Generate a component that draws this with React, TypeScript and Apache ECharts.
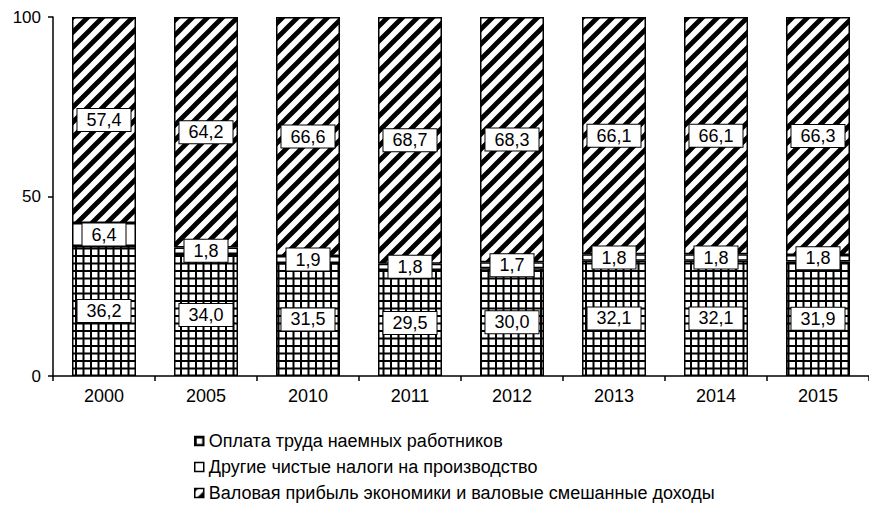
import React, { useEffect, useRef } from "react";
import * as echarts from "echarts";

const years = ["2000", "2005", "2010", "2011", "2012", "2013", "2014", "2015"];
const wages = [36.2, 34.0, 31.5, 29.5, 30.0, 32.1, 32.1, 31.9];
const taxes = [6.4, 1.8, 1.9, 1.8, 1.7, 1.8, 1.8, 1.8];
const profit = [57.4, 64.2, 66.6, 68.7, 68.3, 66.1, 66.1, 66.3];
const seriesNames = [
  "Оплата труда наемных работников",
  "Другие чистые налоги на производство",
  "Валовая прибыль экономики и валовые смешанные доходы",
];

const FONT = "'Liberation Sans', Arial, sans-serif";

function gridPattern(): HTMLCanvasElement {
  const c = document.createElement("canvas");
  c.width = 15;
  c.height = 15;
  const ctx = c.getContext("2d")!;
  ctx.fillStyle = "#fff";
  ctx.fillRect(0, 0, 15, 15);
  ctx.fillStyle = "#000";
  ctx.fillRect(0, 0, 2, 15);
  ctx.fillRect(7.5, 0, 2, 15);
  ctx.fillRect(0, 0, 15, 2);
  ctx.fillRect(0, 7.5, 15, 2);
  return c;
}

function stripePattern(): HTMLCanvasElement {
  const s = 15;
  const c = document.createElement("canvas");
  c.width = s;
  c.height = s;
  const ctx = c.getContext("2d")!;
  ctx.fillStyle = "#fff";
  ctx.fillRect(0, 0, s, s);
  ctx.strokeStyle = "#000";
  ctx.lineWidth = 4.8;
  ctx.beginPath();
  for (let k = -1; k <= 1; k++) {
    ctx.moveTo(-s + k * s, 2 * s);
    ctx.lineTo(2 * s + k * s, -s);
  }
  ctx.stroke();
  return c;
}

const fmt = (p: any) => Number(p.value).toFixed(1).replace(".", ",");

export default function App() {
  const ref = useRef<HTMLDivElement>(null);
  useEffect(() => {
    if (!ref.current) return;
    const chart = echarts.init(ref.current, undefined, { renderer: "svg" });
    const fills = [
      { image: gridPattern(), repeat: "repeat" },
      "#ffffff",
      { image: stripePattern(), repeat: "repeat" },
    ];
    const datas = [wages, taxes, profit];
    const label = {
      show: true,
      position: "inside",
      formatter: fmt,
      color: "#000",
      fontSize: 18,
      fontFamily: FONT,
      lineHeight: 18,
      backgroundColor: "#fff",
      borderColor: "#000",
      borderWidth: 1,
      padding: [2, 9],
    };
    chart.setOption({
      animation: false,
      backgroundColor: "#fff",
      grid: { left: 53, right: 0, top: 17, bottom: 139, containLabel: false },
      legend: {
        orient: "vertical",
        left: 194,
        top: 432,
        padding: 0,
        itemGap: 8,
        itemWidth: 9,
        itemHeight: 9,
        icon: "rect",
        itemStyle: { borderColor: "#000", borderWidth: 1.5 },
        textStyle: { fontSize: 18, color: "#000", fontFamily: FONT },
        data: seriesNames,
      },
      xAxis: {
        type: "category",
        data: years,
        axisLine: { lineStyle: { color: "#000", width: 1.5 } },
        axisTick: { show: true, length: 5, lineStyle: { color: "#000", width: 1.5 } },
        axisLabel: { color: "#000", fontSize: 18, fontFamily: FONT, margin: 11 },
      },
      yAxis: {
        type: "value",
        min: 0,
        max: 100,
        interval: 50,
        splitLine: { show: false },
        axisLine: { show: true, lineStyle: { color: "#000", width: 1.5 } },
        axisTick: { show: true, length: 5, lineStyle: { color: "#000", width: 1.5 } },
        axisLabel: { color: "#000", fontSize: 17, fontFamily: FONT, margin: 12 },
      },
      series: seriesNames.map((name, i) => ({
        name,
        type: "bar",
        stack: "total",
        barWidth: 64,
        data: datas[i],
        itemStyle: { color: fills[i], borderColor: "#000", borderWidth: 1.5 },
        label,
      })),
    });
    return () => chart.dispose();
  }, []);
  return <div ref={ref} style={{ width: 869, height: 515, position: "absolute", left: 0, top: 0 }} />;
}
